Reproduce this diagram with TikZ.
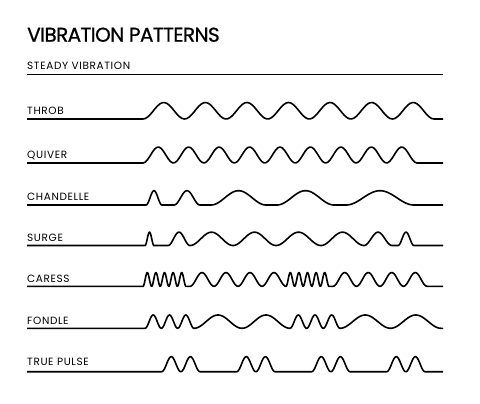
\documentclass[tikz,border=0pt]{standalone}
\usepackage{fontspec}
\setmainfont{Poppins}
\newfontfamily\titlefont[FakeBold=0.8,LetterSpace=-3]{Poppins}
\newfontfamily\lblfont[LetterSpace=6]{Poppins}
\begin{document}
\begin{tikzpicture}[x=1pt,y=-1pt,
  wave/.style={line width=1.6pt, line join=round},
  lbl/.style={anchor=base west, inner sep=0pt, font=\lblfont\fontsize{10.5}{12}\selectfont},
  ttl/.style={anchor=base west, inner sep=0pt, font=\titlefont\fontsize{20}{24}\selectfont},
  bumps/.style n args={5}{insert path={-- plot[domain=#3:#4,samples=121] (\x,{#1-#2*(1-cos(360*#5*((\x-#3)/(#4-#3))))/2})}}
]
\useasboundingbox[fill=white] (0,0) rectangle (480,404);

\node[ttl] (title) at (27,41.7) {VIBRATION PATTERNS};

% steady
\node[lbl] (steady) at (27,69.5) {STEADY VIBRATION};
\draw[wave] (27,74.5) -- (443,74.5);

% throb
\node[lbl] (throb) at (27,114.3) {THROB};
\draw[wave] (27,119) -- (143,119) [bumps={119}{16.5}{143}{434}{7}] -- (443,119);

% quiver
\node[lbl] (quiver) at (27,158.8) {QUIVER};
\draw[wave] (27,163) -- (143,163) [bumps={163}{16}{143}{417}{9}] -- (443,163);

% chandelle
\node[lbl] (chandelle) at (27,200.7) {CHANDELLE};
\draw[wave] (27,205) -- (146,205)
  [bumps={205}{14.3}{146}{162}{1}] -- (174,205)
  [bumps={205}{14.3}{174}{200}{1}] -- (211,205)
  [bumps={205}{14.3}{211}{266}{1}] -- (277,205)
  [bumps={205}{14.3}{277}{334}{1}] -- (346,205)
  [bumps={205}{14.3}{346}{414}{1}] -- (443,205);

% surge
\node[lbl] (surge) at (27,241.8) {SURGE};
\draw[wave] (27,245.5) -- (145,245.5)
  [bumps={245.5}{13.3}{145}{154}{1}] -- (168,245.5)
  [bumps={245.5}{13.3}{168}{190}{1}]
  [bumps={245.5}{13.3}{190}{233}{1}]
  [bumps={245.5}{13.3}{233}{276}{1}]
  [bumps={245.5}{13.3}{276}{321}{1}]
  [bumps={245.5}{13.3}{321}{364}{1}]
  [bumps={245.5}{13.3}{364}{392}{1}] -- (398,245.5)
  [bumps={245.5}{13.3}{398}{414}{1}] -- (443,245.5);

% caress
\node[lbl] (caress) at (27,282.3) {CARESS};
\draw[wave] (27,286.3) -- (143,286.3)
  [bumps={286.3}{13.7}{143}{186}{5}] -- (190,286.3)
  [bumps={286.3}{13.7}{190}{286}{4}]
  [bumps={286.3}{13.7}{286}{329}{5}] -- (333,286.3)
  [bumps={286.3}{13.7}{333}{427}{4}] -- (443,286.3);

% fondle
\node[lbl] (fondle) at (27,324.1) {FONDLE};
\draw[wave] (27,328.3) -- (145,328.3)
  [bumps={328.3}{13.3}{145}{194}{3}]
  [bumps={328.3}{13.3}{194}{290}{2}]
  [bumps={328.3}{13.3}{290}{340}{3}]
  [bumps={328.3}{13.3}{340}{441}{2}] -- (443,328.3);

% true pulse
\node[lbl] (truepulse) at (27,365.8) {TRUE PULSE};
\draw[wave] (27,371.7) -- (161.7,371.7)
  [bumps={371.7}{15}{161.7}{200}{2}] -- (236.7,371.7)
  [bumps={371.7}{15}{236.7}{275}{2}] -- (311.7,371.7)
  [bumps={371.7}{15}{311.7}{350}{2}] -- (386.7,371.7)
  [bumps={371.7}{15}{386.7}{425}{2}] -- (443,371.7);
\end{tikzpicture}
\end{document}
